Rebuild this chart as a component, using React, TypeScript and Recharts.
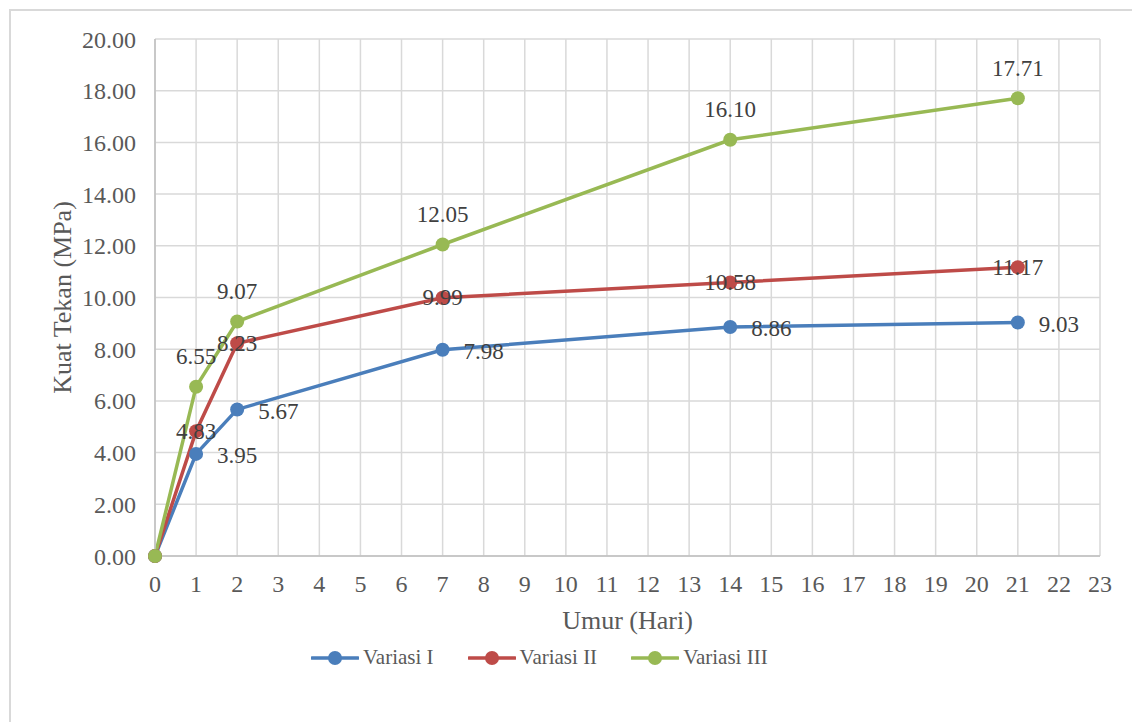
import React from 'react';
import {
  LineChart,
  Line,
  XAxis,
  YAxis,
  CartesianGrid,
  Legend,
  LabelList,
  Label
} from 'recharts';

// Umur benda uji (hari) dan kuat tekan rata-rata (MPa) tiap variasi
const days = [0, 1, 2, 7, 14, 21];
const variasi1 = [0, 3.95, 5.67, 7.98, 8.86, 9.03];
const variasi2 = [0, 4.83, 8.23, 9.99, 10.58, 11.17];
const variasi3 = [0, 6.55, 9.07, 12.05, 16.1, 17.71];

const xTicks = Array.from({ length: 24 }, (_, i) => i);
const yTicks = [0, 2, 4, 6, 8, 10, 12, 14, 16, 18, 20];

const seriesNames = ['Variasi I', 'Variasi II', 'Variasi III'];
const colors = ['#4A7EBB', '#BE4B48', '#98B954'];

const FONT = 'Liberation Serif';
const TEXT = '#595959';

const data = days.map((day, i) => ({
  day,
  v1: variasi1[i],
  v2: variasi2[i],
  v3: variasi3[i]
}));

type LabelMode = 'right' | 'center' | 'above';

// Data label renderer; the zero point at day 0 carries no label
const makeLabel = (mode: LabelMode) => (props: any) => {
  const { x, y, value, index } = props;
  if (index === 0 || value == null) return null;
  const text = Number(value).toFixed(2);
  let tx = Number(x);
  let ty = Number(y);
  let anchor: 'start' | 'middle' = 'middle';
  if (mode === 'right') {
    tx += 21;
    ty += 2;
    anchor = 'start';
  } else if (mode === 'above') {
    ty -= 30;
  }
  return (
    <text
      x={tx}
      y={ty}
      textAnchor={anchor}
      dominantBaseline="central"
      style={{ fontFamily: FONT }}
      fontSize={23}
      fill="#404040"
    >
      {text}
    </text>
  );
};

const renderLegend = () => (
  <div style={{ display: 'flex', alignItems: 'center', paddingLeft: 311, fontFamily: FONT, fontSize: 21, color: TEXT }}>
    {seriesNames.map((name, i) => (
      <div key={name} style={{ display: 'flex', alignItems: 'center', marginRight: 34 }}>
        <svg width={48} height={16} style={{ marginRight: 4 }}>
          <line x1={1} y1={8} x2={47} y2={8} stroke={colors[i]} strokeWidth={3.5} strokeLinecap="round" />
          <circle cx={24} cy={8} r={7} fill={colors[i]} />
        </svg>
        <span>{name}</span>
      </div>
    ))}
  </div>
);

const App: React.FC = () => {
  return (
    <div style={{ position: 'absolute', left: 0, top: 0, width: 1132, height: 722, overflow: 'hidden', background: '#fff', fontFamily: FONT }}>
      <div style={{ position: 'absolute', left: 9, top: 9, width: 1200, height: 800, border: '2px solid #d9d9d9' }} />
      <LineChart
        width={1132}
        height={722}
        data={data}
        margin={{ top: 39, right: 32, left: 0, bottom: 106 }}
        style={{ position: 'absolute', left: 0, top: 0, fontFamily: FONT }}
      >
        <CartesianGrid stroke="#d9d9d9" strokeWidth={1.5} />
        <XAxis
          dataKey="day"
          type="number"
          domain={[0, 23]}
          ticks={xTicks}
          interval={0}
          height={60}
          stroke="#bfbfbf"
          strokeWidth={1.5}
          tickLine={false}
          tickMargin={13}
          tick={{ fill: TEXT, fontSize: 24, style: { fontFamily: FONT } }}
        >
          <Label
            content={({ viewBox }: any) => (
              <text
                x={viewBox.x + viewBox.width / 2}
                y={viewBox.y + 64}
                textAnchor="middle"
                dominantBaseline="central"
                style={{ fontFamily: FONT }}
                fontSize={26}
                fill={TEXT}
              >
                Umur (Hari)
              </text>
            )}
          />
        </XAxis>
        <YAxis
          type="number"
          domain={[0, 20]}
          ticks={yTicks}
          width={155}
          stroke="#bfbfbf"
          strokeWidth={1.5}
          tickLine={false}
          tickMargin={13}
          tickFormatter={(v: number) => v.toFixed(2)}
          tick={{ fill: TEXT, fontSize: 24, style: { fontFamily: FONT } }}
        >
          <Label
            content={({ viewBox }: any) => {
              const cx = viewBox.x + 62;
              const cy = viewBox.y + viewBox.height / 2;
              return (
                <text
                  x={cx}
                  y={cy}
                  transform={`rotate(-90 ${cx} ${cy})`}
                  textAnchor="middle"
                  dominantBaseline="central"
                  style={{ fontFamily: FONT }}
                  fontSize={26}
                  fill={TEXT}
                >
                  Kuat Tekan (MPa)
                </text>
              );
            }}
          />
        </YAxis>
        <Legend
          verticalAlign="middle"
          align="center"
          content={renderLegend}
          wrapperStyle={{ top: 645, left: 0, width: 1132 }}
        />
        <Line
          dataKey="v1"
          name={seriesNames[0]}
          stroke={colors[0]}
          strokeWidth={3.5}
          dot={{ r: 7, fill: colors[0], stroke: colors[0], strokeWidth: 0 }}
          isAnimationActive={false}
        >
          <LabelList dataKey="v1" content={makeLabel('right')} />
        </Line>
        <Line
          dataKey="v2"
          name={seriesNames[1]}
          stroke={colors[1]}
          strokeWidth={3.5}
          dot={{ r: 7, fill: colors[1], stroke: colors[1], strokeWidth: 0 }}
          isAnimationActive={false}
        >
          <LabelList dataKey="v2" content={makeLabel('center')} />
        </Line>
        <Line
          dataKey="v3"
          name={seriesNames[2]}
          stroke={colors[2]}
          strokeWidth={3.5}
          dot={{ r: 7, fill: colors[2], stroke: colors[2], strokeWidth: 0 }}
          isAnimationActive={false}
        >
          <LabelList dataKey="v3" content={makeLabel('above')} />
        </Line>
      </LineChart>
    </div>
  );
};

export default App;
